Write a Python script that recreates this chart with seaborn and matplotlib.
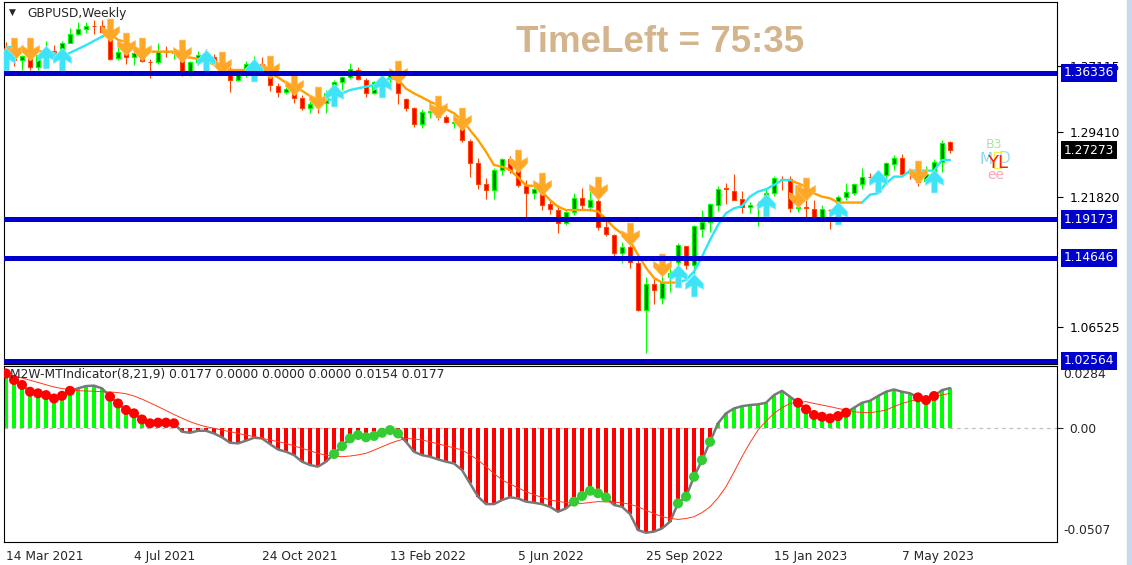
import matplotlib

matplotlib.use("Agg")
import matplotlib.pyplot as plt
import matplotlib.transforms as mtransforms
from matplotlib.path import Path
import numpy as np
import seaborn as sns

W, H = 1132, 565

# ---- weekly GBPUSD candles (14 Mar 2021 .. 18 Jun 2023) ----
opens = [1.3925, 1.3865, 1.3790, 1.3830, 1.3700, 1.3840, 1.3890, 1.3820, 1.3990, 1.4095,
         1.4155, 1.4190, 1.4180, 1.4110, 1.3810, 1.3880, 1.3825, 1.3870, 1.3765, 1.3760,
         1.3890, 1.3865, 1.3850, 1.3640, 1.3760, 1.3860, 1.3820, 1.3740, 1.3665, 1.3555,
         1.3610, 1.3740, 1.3735, 1.3640, 1.3480, 1.3405, 1.3440, 1.3335, 1.3225, 1.3245,
         1.3280, 1.3400, 1.3530, 1.3590, 1.3670, 1.3550, 1.3400, 1.3530, 1.3570, 1.3605,
         1.3330, 1.3225, 1.3040, 1.3175, 1.3180, 1.3115, 1.3045, 1.3055, 1.2840, 1.2575,
         1.2335, 1.2260, 1.2490, 1.2620, 1.2490, 1.2310, 1.2230, 1.2265, 1.2095, 1.2030,
         1.1870, 1.2000, 1.2165, 1.2065, 1.2135, 1.1830, 1.1735, 1.1520, 1.1590, 1.1410,
         1.0855, 1.1160, 1.1000, 1.1235, 1.1420, 1.1600, 1.1380, 1.1800, 1.1890, 1.2080,
         1.2280, 1.2245, 1.2150, 1.2060, 1.2080, 1.2100, 1.2225, 1.2395, 1.2390, 1.2050,
         1.2060, 1.2035, 1.1950, 1.2030, 1.2105, 1.2180, 1.2230, 1.2330, 1.2415, 1.2420,
         1.2440, 1.2570, 1.2640, 1.2460, 1.2450, 1.2370, 1.2460, 1.2585, 1.2820]
highs = [1.4000, 1.3920, 1.3850, 1.3920, 1.3850, 1.4010, 1.3960, 1.4010, 1.4165, 1.4235,
         1.4230, 1.4250, 1.4250, 1.4140, 1.3960, 1.3975, 1.3905, 1.3910, 1.3800, 1.3985,
         1.3955, 1.3895, 1.3890, 1.3780, 1.3890, 1.3915, 1.3855, 1.3750, 1.3700, 1.3675,
         1.3775, 1.3835, 1.3820, 1.3700, 1.3520, 1.3475, 1.3510, 1.3375, 1.3300, 1.3340,
         1.3440, 1.3550, 1.3600, 1.3750, 1.3700, 1.3580, 1.3545, 1.3640, 1.3650, 1.3640,
         1.3340, 1.3240, 1.3210, 1.3300, 1.3235, 1.3140, 1.3145, 1.3095, 1.2860, 1.2640,
         1.2400, 1.2525, 1.2640, 1.2665, 1.2600, 1.2375, 1.2320, 1.2330, 1.2160, 1.2090,
         1.2030, 1.2230, 1.2290, 1.2275, 1.2280, 1.1900, 1.1750, 1.1650, 1.1740, 1.1460,
         1.1240, 1.1240, 1.1380, 1.1440, 1.1645, 1.1610, 1.1855, 1.2030, 1.2100, 1.2310,
         1.2345, 1.2445, 1.2245, 1.2125, 1.2130, 1.2290, 1.2420, 1.2420, 1.2420, 1.2190,
         1.2270, 1.2145, 1.2090, 1.2035, 1.2200, 1.2340, 1.2345, 1.2525, 1.2455, 1.2475,
         1.2585, 1.2670, 1.2680, 1.2490, 1.2470, 1.2540, 1.2625, 1.2850, 1.2840]
lows = [1.3800, 1.3710, 1.3670, 1.3670, 1.3670, 1.3820, 1.3810, 1.3800, 1.3990, 1.4075,
        1.4100, 1.4095, 1.4100, 1.3785, 1.3790, 1.3735, 1.3730, 1.3760, 1.3570, 1.3740,
        1.3825, 1.3800, 1.3600, 1.3600, 1.3730, 1.3780, 1.3720, 1.3610, 1.3410, 1.3545,
        1.3590, 1.3670, 1.3650, 1.3425, 1.3350, 1.3385, 1.3280, 1.3200, 1.3160, 1.3170,
        1.3160, 1.3370, 1.3440, 1.3560, 1.3550, 1.3355, 1.3385, 1.3485, 1.3490, 1.3270,
        1.3190, 1.3000, 1.2990, 1.3110, 1.3080, 1.3050, 1.2990, 1.2830, 1.2410, 1.2275,
        1.2155, 1.2160, 1.2440, 1.2460, 1.2300, 1.1935, 1.2160, 1.2030, 1.1980, 1.1760,
        1.1850, 1.1970, 1.2040, 1.2010, 1.1790, 1.1720, 1.1470, 1.1405, 1.1350, 1.0840,
        1.0350, 1.0925, 1.0920, 1.1060, 1.1250, 1.1335, 1.1145, 1.1710, 1.1765, 1.2010,
        1.2100, 1.2140, 1.1990, 1.1990, 1.1840, 1.2085, 1.2195, 1.2265, 1.2000, 1.2000,
        1.1915, 1.1925, 1.1900, 1.1800, 1.1990, 1.2140, 1.2200, 1.2270, 1.2345, 1.2370,
        1.2370, 1.2490, 1.2450, 1.2390, 1.2310, 1.2360, 1.2370, 1.2475, 1.2695]
closes = [1.3865, 1.3790, 1.3830, 1.3700, 1.3840, 1.3890, 1.3820, 1.3990, 1.4095, 1.4155,
          1.4190, 1.4180, 1.4110, 1.3800, 1.3880, 1.3825, 1.3870, 1.3780, 1.3760, 1.3890,
          1.3880, 1.3880, 1.3650, 1.3760, 1.3840, 1.3820, 1.3740, 1.3670, 1.3550, 1.3610,
          1.3740, 1.3755, 1.3690, 1.3490, 1.3410, 1.3445, 1.3335, 1.3225, 1.3265, 1.3240,
          1.3400, 1.3530, 1.3590, 1.3680, 1.3565, 1.3400, 1.3525, 1.3560, 1.3615, 1.3400,
          1.3220, 1.3040, 1.3180, 1.3185, 1.3120, 1.3060, 1.3060, 1.2850, 1.2580, 1.2335,
          1.2260, 1.2490, 1.2620, 1.2490, 1.2320, 1.2225, 1.2270, 1.2090, 1.2035, 1.1870,
          1.2000, 1.2170, 1.2080, 1.2140, 1.1830, 1.1740, 1.1525, 1.1590, 1.1415, 1.0855,
          1.1160, 1.1090, 1.1170, 1.1290, 1.1615, 1.1380, 1.1840, 1.1890, 1.2095, 1.2275,
          1.2270, 1.2145, 1.2060, 1.2090, 1.2090, 1.2230, 1.2400, 1.2390, 1.2050, 1.2060,
          1.2045, 1.1945, 1.2040, 1.2025, 1.2180, 1.2240, 1.2330, 1.2410, 1.2410, 1.2450,
          1.2580, 1.2640, 1.2450, 1.2455, 1.2360, 1.2450, 1.2585, 1.2815, 1.2727]

# trailing trend line and its direction (1 = up / cyan, -1 = down / orange)
trend_line = [1.3940, 1.3935, 1.3895, 1.3895, 1.3890, 1.3880, 1.3870, 1.3825, 1.3870, 1.3915,
              1.3960, 1.4010, 1.4060, 1.4100, 1.4021, 1.4001, 1.3942, 1.3884, 1.3884, 1.3884,
              1.3884, 1.3884, 1.3825, 1.3815, 1.3800, 1.3770, 1.3735, 1.3690, 1.3669, 1.3669,
              1.3669, 1.3669, 1.3669, 1.3630, 1.3583, 1.3520, 1.3473, 1.3426, 1.3364, 1.3325,
              1.3320, 1.3320, 1.3395, 1.3434, 1.3454, 1.3473, 1.3493, 1.3532, 1.3571, 1.3560,
              1.3450, 1.3395, 1.3348, 1.3297, 1.3258, 1.3211, 1.3161, 1.3082, 1.2965, 1.2848,
              1.2711, 1.2554, 1.2535, 1.2496, 1.2410, 1.2316, 1.2308, 1.2242, 1.2144, 1.2066,
              1.2026, 1.2026, 1.2026, 1.2026, 1.2010, 1.1920, 1.1820, 1.1750, 1.1670, 1.1500,
              1.1350, 1.1230, 1.1175, 1.1175, 1.1175, 1.1206, 1.1303, 1.1479, 1.1675, 1.1851,
              1.1988, 1.2046, 1.2073, 1.2183, 1.2242, 1.2270, 1.2320, 1.2378, 1.2378, 1.2340,
              1.2300, 1.2222, 1.2183, 1.2164, 1.2114, 1.2114, 1.2114, 1.2114, 1.2206, 1.2222,
              1.2340, 1.2418, 1.2418, 1.2488, 1.2488, 1.2488, 1.2488, 1.2613, 1.2613]
trend_dir = [1, 1, -1, -1, -1, -1, -1, 1, 1, 1, 1, 1, 1, -1, -1, -1, -1, -1, -1, -1,
             -1, -1, -1, -1, -1, -1, -1, -1, -1, -1, -1, -1, -1, -1, -1, -1, -1, -1, -1, -1,
             -1, 1, 1, 1, 1, 1, 1, 1, 1, -1, -1, -1, -1, -1, -1, -1, -1, -1, -1, -1,
             -1, -1, -1, -1, -1, -1, -1, -1, -1, -1, -1, -1, -1, -1, -1, -1, -1, -1, -1, -1,
             -1, -1, -1, -1, -1, 1, 1, 1, 1, 1, 1, 1, 1, 1, 1, 1, 1, 1, 1, -1,
             -1, -1, -1, -1, -1, -1, -1, -1, 1, 1, 1, 1, 1, 1, 1, 1, 1, 1, 1]
sell_arrows = [1, 3, 13, 15, 17, 22, 27, 33, 36, 39, 49, 54, 57, 64, 67, 74, 78, 82, 99, 100, 114]
buy_arrows = [0, 5, 7, 25, 31, 41, 47, 84, 86, 95, 104, 109, 116]

levels = [1.36336, 1.19173, 1.14646, 1.02564]
last_price = 1.27273
price_ticks = [1.37115, 1.29410, 1.21820, 1.06525]

# ---- oscillator ----
osc_hist = [0.0242, 0.0213, 0.0191, 0.0161, 0.0154, 0.0146, 0.0131, 0.0143, 0.0165, 0.0176,
            0.0186, 0.0188, 0.0176, 0.0139, 0.0109, 0.0080, 0.0065, 0.0038, 0.0021, 0.0024,
            0.0024, 0.0021, -0.0016, -0.0021, -0.0012, -0.0012, -0.0024, -0.0041, -0.0065, -0.0068,
            -0.0056, -0.0043, -0.0046, -0.0071, -0.0095, -0.0105, -0.0120, -0.0149, -0.0164, -0.0171,
            -0.0149, -0.0115, -0.0080, -0.0046, -0.0031, -0.0041, -0.0035, -0.0021, -0.0009, -0.0024,
            -0.0061, -0.0105, -0.0120, -0.0127, -0.0139, -0.0149, -0.0157, -0.0186, -0.0245, -0.0304,
            -0.0337, -0.0337, -0.0319, -0.0307, -0.0312, -0.0326, -0.0331, -0.0337, -0.0349, -0.0371,
            -0.0356, -0.0326, -0.0301, -0.0278, -0.0289, -0.0307, -0.0341, -0.0349, -0.0381, -0.0452,
            -0.0464, -0.0459, -0.0445, -0.0415, -0.0334, -0.0304, -0.0216, -0.0142, -0.0061, 0.0021,
            0.0065, 0.0087, 0.0097, 0.0102, 0.0105, 0.0112, 0.0146, 0.0165, 0.0139, 0.0112,
            0.0083, 0.0058, 0.0050, 0.0043, 0.0053, 0.0068, 0.0090, 0.0112, 0.0121, 0.0142,
            0.0161, 0.0171, 0.0161, 0.0154, 0.0136, 0.0124, 0.0142, 0.0168, 0.0177]
osc_signal = [0.0235, 0.0230, 0.0222, 0.0212, 0.0202, 0.0192, 0.0182, 0.0175, 0.0170, 0.0166,
              0.0164, 0.0163, 0.0161, 0.0160, 0.0157, 0.0152, 0.0142, 0.0128, 0.0112, 0.0095,
              0.0078, 0.0060, 0.0044, 0.0028, 0.0016, 0.0006, -0.0001, -0.0009, -0.0016, -0.0024,
              -0.0031, -0.0038, -0.0045, -0.0053, -0.0060, -0.0068, -0.0079, -0.0090, -0.0101, -0.0112,
              -0.0120, -0.0125, -0.0127, -0.0124, -0.0119, -0.0112, -0.0098, -0.0083, -0.0068, -0.0056,
              -0.0046, -0.0048, -0.0053, -0.0061, -0.0070, -0.0079, -0.0088, -0.0097, -0.0118, -0.0142,
              -0.0171, -0.0201, -0.0230, -0.0248, -0.0265, -0.0282, -0.0295, -0.0308, -0.0319, -0.0325,
              -0.0330, -0.0333, -0.0334, -0.0330, -0.0326, -0.0327, -0.0329, -0.0331, -0.0338, -0.0349,
              -0.0364, -0.0379, -0.0393, -0.0400, -0.0405, -0.0401, -0.0393, -0.0375, -0.0349, -0.0310,
              -0.0260, -0.0195, -0.0127, -0.0065, -0.0009, 0.0030, 0.0065, 0.0090, 0.0109, 0.0115,
              0.0117, 0.0109, 0.0102, 0.0095, 0.0087, 0.0080, 0.0072, 0.0069, 0.0068, 0.0073,
              0.0080, 0.0095, 0.0109, 0.0119, 0.0127, 0.0133, 0.0139, 0.0147, 0.0154]
red_dots = [0, 1, 2, 3, 4, 5, 6, 7, 8, 13, 14, 15, 16, 17, 18, 19, 20, 21,
            99, 100, 101, 102, 103, 104, 105, 114, 115, 116]
green_dots = [41, 42, 43, 44, 45, 46, 47, 48, 49, 71, 72, 73, 74, 75, 84, 85, 86, 87, 88]

date_idx = [0, 16, 32, 48, 64, 80, 96, 112]
date_labels = ["14 Mar 2021", "4 Jul 2021", "24 Oct 2021", "13 Feb 2022",
               "5 Jun 2022", "25 Sep 2022", "15 Jan 2023", "7 May 2023"]

sns.set_style("white")
plt.rcParams["font.family"] = ["DejaVu Sans"]
FS = 8.8


def fx(px):
    return px / W


def fy(py):
    return 1 - py / H


fig = plt.figure(figsize=(W / 100, H / 100), dpi=100)
ax = fig.add_axes([fx(4), fy(364), fx(1057) - fx(4), fy(2) - fy(364)])
ax2 = fig.add_axes([fx(4), fy(542), fx(1057) - fx(4), fy(366) - fy(542)])

n = len(closes)
idx = np.arange(n)
o, h, l, c = map(np.array, (opens, highs, lows, closes))
bull = c >= o

# ---- price panel ----
ax.vlines(idx, l, h, colors=np.where(bull, "#00FF00", "#FF4500"), lw=0.8, zorder=2)
ax.bar(idx, np.abs(c - o), bottom=np.minimum(o, c), width=0.62,
       color=np.where(bull, "#008000", "#FF0000"),
       edgecolor=np.where(bull, "#00FF00", "#FF4500"), linewidth=0.8, zorder=3)

tl = np.array(trend_line)
td = np.array(trend_dir)
for d, col in [(-1, "#FFA000"), (1, "#2CE6F5")]:
    mask = (td == d) | (np.append(td[1:], 0) == d)
    ax.plot(idx, np.where(mask, tl, np.nan), color=col, lw=1.7, zorder=4)

head = 0.8
dn_arrow = Path([(-0.26, 1), (0.26, 1), (0.26, 0.05), (head, 0.35), (head, -0.15), (0, -1),
                 (-head, -0.15), (-head, 0.35), (-0.26, 0.05), (-0.26, 1)])
up_arrow = Path([(x, -y) for x, y in dn_arrow.vertices])
ax.scatter(sell_arrows, h[sell_arrows], marker=dn_arrow, s=270, color="#FFA726",
           edgecolors="#FFC260", linewidths=0.5, zorder=5)
ax.scatter(buy_arrows, l[buy_arrows], marker=up_arrow, s=270, color="#3FE3F7",
           edgecolors="#8FF0FA", linewidths=0.5, zorder=5)

for lv in levels:
    ax.axhline(lv, color="#0000CC", lw=3.6, zorder=6)

ax.set_xlim(-0.25, 131.375)
ax.set_ylim(1.02202, 1.44664)
ax.set_xticks([])
ax.yaxis.tick_right()
ax.set_yticks(price_ticks)
ax.set_yticklabels([f"{v:.5f}" for v in price_ticks], fontsize=FS)
ax.tick_params(axis="y", length=4, width=0.8, pad=5, colors="black")

blend = mtransforms.blended_transform_factory(ax.transAxes, ax.transData)
for lv in levels:
    ax.text(1 + 7 / 1053, lv, f"{lv:.5f}", transform=blend, ha="left", va="center",
            fontsize=FS, color="white", zorder=10, clip_on=False,
            bbox=dict(boxstyle="square,pad=0.22", fc="#0000CC", ec="none"))
ax.text(1 + 7 / 1053, last_price, f"{last_price:.5f}", transform=blend, ha="left",
        va="center", fontsize=FS, color="white", zorder=10, clip_on=False,
        bbox=dict(boxstyle="square,pad=0.22", fc="black", ec="none"))

for sp in ax.spines.values():
    sp.set_color("black")
    sp.set_linewidth(0.8)

# ---- oscillator panel ----
hist = np.array(osc_hist)
ax2.axhline(0, color="#C0C0C0", lw=0.9, ls=(0, (3, 3)), zorder=1)
ax2.bar(idx, hist, width=0.5, color=np.where(hist >= 0, "#00FF00", "#FF0000"),
        linewidth=0, zorder=2)
sns.lineplot(x=idx, y=hist, ax=ax2, color="#787878", lw=1.8, zorder=3)
sns.lineplot(x=idx, y=osc_signal, ax=ax2, color="#FF3A1A", lw=0.7, zorder=4)
ax2.scatter(red_dots, hist[red_dots], s=52, color="#FF0000", edgecolors="none", zorder=5)
ax2.scatter(green_dots, hist[green_dots], s=52, color="#33CC33", edgecolors="none", zorder=5)

ax2.set_xlim(-0.25, 131.375)
ax2.set_ylim(-0.0505, 0.0275)
ax2.set_xlabel("")
ax2.set_ylabel("")
ax2.yaxis.tick_right()
ax2.set_yticks([0])
ax2.set_yticklabels(["0.00"], fontsize=FS)
ax2.tick_params(axis="y", length=4, width=0.8, pad=5)
ax2.set_xticks(date_idx)
ax2.set_xticklabels(date_labels, fontsize=FS, ha="left")
ax2.tick_params(axis="x", length=4, width=0.8, pad=2)
ax2.text(1 + 6 / 1053, 0.949, "0.0284", transform=ax2.transAxes, ha="left", va="center",
         fontsize=FS)
ax2.text(1 + 6 / 1053, 0.0625, "-0.0507", transform=ax2.transAxes, ha="left", va="center",
         fontsize=FS)
for sp in ax2.spines.values():
    sp.set_color("black")
    sp.set_linewidth(0.8)

ax2.text(0.006, 0.95, "M2W-MTIndicator(8,21,9) 0.0177 0.0000 0.0000 0.0000 0.0154 0.0177",
         transform=ax2.transAxes, ha="left", va="center", fontsize=FS, zorder=8)

# ---- overlays ----
fig.text(fx(9), fy(12), "\u25BC", fontsize=6.5, ha="left", va="center")
fig.text(fx(27), fy(13), "GBPUSD,Weekly", fontsize=FS, ha="left", va="center")
fig.text(fx(660), fy(42), "TimeLeft = 75:35", fontsize=26.5, fontweight="bold",
         family="Liberation Sans", color="#D4B48C", ha="center", va="center")

fig.text(fx(994), fy(145), "B3", fontsize=9, color="#A8E6A0", ha="center", va="center")
fig.text(fx(996), fy(175), "ee", fontsize=10, color="#F6A8B8", ha="center", va="center")
fig.text(fx(986), fy(160), "M", fontsize=11, color="#8ED8EE", ha="center", va="center")
fig.text(fx(1004), fy(158), "D", fontsize=11, color="#9FE0F0", ha="center", va="center")
fig.text(fx(998), fy(160), "\u25AF", fontsize=16, color="#F0F040", ha="center", va="center")
fig.text(fx(998), fy(163), "YL", fontsize=13, color="#FF1A1A", ha="center", va="center")

fig.patches.append(plt.Rectangle((fx(1127), 0), fx(5), 1, transform=fig.transFigure,
                                 color="#C9D9EC", zorder=0))

fig.savefig("out.png", dpi=100)
plt.close(fig)
